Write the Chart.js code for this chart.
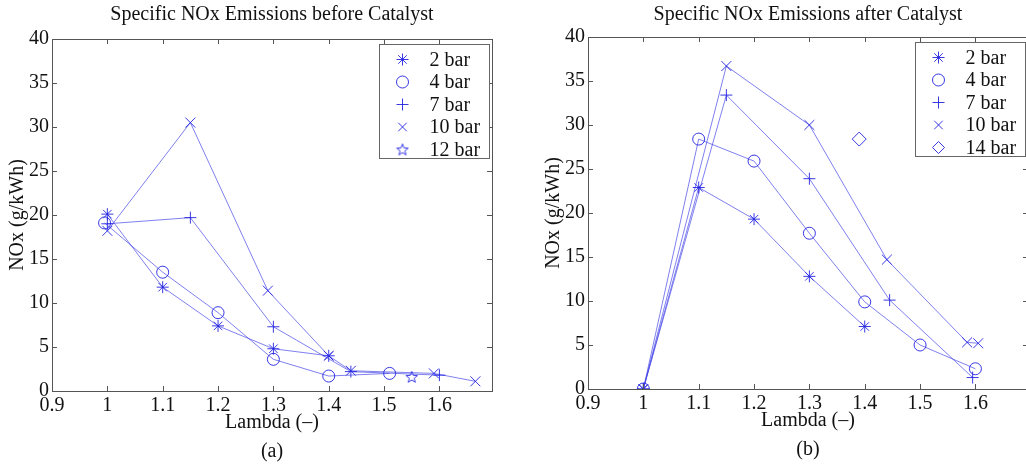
<!DOCTYPE html>
<html>
<head>
<meta charset="utf-8">
<script src="https://cdn.jsdelivr.net/npm/chart.js@4"></script>
<style>
  html, body { margin: 0; padding: 0; background: #fff; overflow: hidden; }
  body { width: 1026px; height: 467px; position: relative; }
  canvas { position: absolute; top: 0; }
  #cBefore { left: 0; }
  #cAfter { left: 536px; }
</style>
</head>
<body>
<canvas id="cBefore" width="500" height="467"></canvas>
<canvas id="cAfter" width="500" height="467"></canvas>
<script>
// before catalyst (a)
const beforeLabels = ['2 bar', '4 bar', '7 bar', '10 bar', '12 bar'];
const before2x = [1.0, 1.1, 1.2, 1.3, 1.4];
const before2y = [20.1, 11.8, 7.4, 4.8, 4.0];
const before4x = [0.995, 1.1, 1.2, 1.3, 1.4, 1.51];
const before4y = [19.1, 13.5, 8.9, 3.6, 1.7, 2.0];
const before7x = [1.0, 1.15, 1.3, 1.44, 1.6];
const before7y = [19.0, 19.7, 7.3, 2.2, 1.8];
const before10x = [1.0, 1.15, 1.29, 1.4, 1.44, 1.59, 1.665];
const before10y = [18.2, 30.5, 11.4, 4.0, 2.3, 2.0, 1.1];
const before12x = [1.55];
const before12y = [1.6];

// after catalyst (b)
const afterLabels = ['2 bar', '4 bar', '7 bar', '10 bar', '14 bar'];
const after2x = [1.0, 1.1, 1.2, 1.3, 1.4];
const after2y = [0, 22.9, 19.3, 12.8, 7.1];
const after4x = [1.0, 1.1, 1.2, 1.3, 1.4, 1.5, 1.6];
const after4y = [0, 28.4, 25.9, 17.7, 9.9, 5.0, 2.3];
const after7x = [1.0, 1.15, 1.3, 1.445, 1.595];
const after7y = [0, 33.4, 23.9, 10.1, 1.3];
const after10x = [1.0, 1.15, 1.3, 1.44, 1.585, 1.605];
const after10y = [0, 36.7, 30.0, 14.7, 5.3, 5.2];
const after14x = [1.39];
const after14y = [28.4];

const xTicks = [0.9, 1.0, 1.1, 1.2, 1.3, 1.4, 1.5, 1.6];
const yTicks = [0, 5, 10, 15, 20, 25, 30, 35, 40];

const SERIF = '"Liberation Serif", "DejaVu Serif", serif';
const LINE = 'rgba(60,60,230,0.65)';
const MARK = 'rgba(35,35,225,0.9)';

// pentagram marker (no built-in style for it)
function makeStar() {
  const c = document.createElement('canvas');
  c.width = 14; c.height = 14;
  const g = c.getContext('2d');
  g.strokeStyle = MARK;
  g.lineWidth = 1;
  g.beginPath();
  for (let i = 0; i < 10; i++) {
    const r = i % 2 === 0 ? 6 : 2.6;
    const a = -Math.PI / 2 + i * Math.PI / 5;
    const px = 7 + r * Math.cos(a), py = 7.5 + r * Math.sin(a);
    if (i === 0) g.moveTo(px, py); else g.lineTo(px, py);
  }
  g.closePath();
  g.stroke();
  return c;
}
const starImg = makeStar();

function pts(xs, ys) {
  return xs.map((x, i) => ({ x: x, y: ys[i] }));
}

function serie(label, xs, ys, style, radius) {
  return {
    label: label,
    data: pts(xs, ys),
    showLine: true,
    borderColor: LINE,
    borderWidth: 1,
    pointStyle: style,
    pointRadius: radius,
    pointBorderColor: MARK,
    pointBackgroundColor: 'rgba(0,0,0,0)',
    pointBorderWidth: 1
  };
}

// box, inward ticks on all four sides
const framePlugin = {
  id: 'frame',
  afterDatasetsDraw(chart) {
    const ctx = chart.ctx, a = chart.chartArea;
    const xs = chart.scales.x, ys = chart.scales.y;
    ctx.save();
    ctx.strokeStyle = '#555';
    ctx.lineWidth = 1;
    ctx.beginPath();
    xs.ticks.forEach(t => {
      const p = Math.round(xs.getPixelForValue(t.value)) + 0.5;
      ctx.moveTo(p, a.bottom); ctx.lineTo(p, a.bottom - 5);
      ctx.moveTo(p, a.top); ctx.lineTo(p, a.top + 5);
    });
    ys.ticks.forEach(t => {
      const p = Math.round(ys.getPixelForValue(t.value)) + 0.5;
      ctx.moveTo(a.left, p); ctx.lineTo(a.left + 5, p);
      ctx.moveTo(a.right, p); ctx.lineTo(a.right - 5, p);
    });
    ctx.stroke();
    ctx.strokeRect(Math.round(a.left) + 0.5, Math.round(a.top) + 0.5,
      Math.round(a.right - a.left), Math.round(a.bottom - a.top));
    ctx.restore();
  }
};

// matlab-like legend box in the top right corner
const boxLegend = {
  id: 'boxLegend',
  afterDraw(chart) {
    const ctx = chart.ctx, a = chart.chartArea;
    const w = 110, h = 114;
    const left = Math.round(a.right - 3 - w) + 0.5, top = Math.round(a.top + 5) + 0.5;
    ctx.save();
    ctx.fillStyle = '#fff';
    ctx.fillRect(left, top, w, h);
    ctx.strokeStyle = '#666';
    ctx.lineWidth = 1;
    ctx.strokeRect(left, top, w, h);
    ctx.font = '20px ' + SERIF;
    ctx.textBaseline = 'middle';
    chart.data.datasets.forEach((ds, i) => {
      const cy = top + 15 + i * 22.5;
      ctx.strokeStyle = MARK;
      ctx.fillStyle = 'rgba(0,0,0,0)';
      ctx.lineWidth = 1;
      Chart.helpers.drawPoint(ctx, {
        pointStyle: ds.pointStyle,
        radius: Math.min(ds.pointRadius, 6),
        rotation: 0,
        borderWidth: 1
      }, left + 23, cy);
      ctx.fillStyle = '#111';
      ctx.fillText(ds.label, left + 50, cy + 1);
    });
    ctx.restore();
  }
};

function makeChart(id, datasets, title, tag, opts) {
  return new Chart(document.getElementById(id), {
    type: 'scatter',
    data: { datasets: datasets },
    plugins: [framePlugin, boxLegend],
    options: {
      responsive: false,
      animation: false,
      devicePixelRatio: 1,
      layout: { padding: { left: 0, right: opts.padRight, top: 0, bottom: 0 } },
      plugins: {
        legend: { display: false },
        tooltip: { enabled: false },
        title: {
          display: true,
          text: title,
          fullSize: false,
          color: '#111',
          font: { family: SERIF, size: 20, weight: 'normal', lineHeight: 1.2 },
          padding: { top: 3, bottom: opts.titleGap }
        }
      },
      scales: {
        x: {
          type: 'linear',
          min: 0.9,
          max: 1.695,
          afterBuildTicks: s => { s.ticks = xTicks.map(v => ({ value: v })); },
          afterFit: s => { s.height = opts.xHeight; },
          grid: { display: false, drawTicks: false },
          border: { display: false },
          ticks: {
            color: '#111',
            padding: 3,
            maxRotation: 0,
            autoSkip: false,
            font: { family: SERIF, size: 20 },
            callback: v => String(+Number(v).toFixed(1))
          },
          title: {
            display: true,
            text: ['Lambda (–)', tag],
            color: '#111',
            font: { family: SERIF, size: 20, lineHeight: 1.45 },
            padding: { top: 0, bottom: opts.tagPad }
          }
        },
        y: {
          min: 0,
          max: 40,
          afterBuildTicks: s => { s.ticks = yTicks.map(v => ({ value: v })); },
          afterFit: s => { s.width = 52; },
          grid: { display: false, drawTicks: false },
          border: { display: false },
          ticks: {
            color: '#111',
            padding: 3,
            font: { family: SERIF, size: 20 }
          },
          title: {
            display: true,
            text: 'NOx (g/kWh)',
            color: '#111',
            font: { family: SERIF, size: 20, lineHeight: 1.2 },
            padding: { top: 6, bottom: 0 }
          }
        }
      }
    }
  });
}

makeChart('cBefore', [
  serie(beforeLabels[0], before2x, before2y, 'star', 6),
  serie(beforeLabels[1], before4x, before4y, 'circle', 6),
  serie(beforeLabels[2], before7x, before7y, 'cross', 6),
  serie(beforeLabels[3], before10x, before10y, 'crossRot', 7),
  serie(beforeLabels[4], before12x, before12y, starImg, 7)
], 'Specific NOx Emissions before Catalyst', '(a)',
  { padRight: 3, titleGap: 12, xHeight: 76, tagPad: 0.5 });

makeChart('cAfter', [
  serie(afterLabels[0], after2x, after2y, 'star', 6),
  serie(afterLabels[1], after4x, after4y, 'circle', 6),
  serie(afterLabels[2], after7x, after7y, 'cross', 6),
  serie(afterLabels[3], after10x, after10y, 'crossRot', 7),
  serie(afterLabels[4], after14x, after14y, 'rectRot', 7)
], 'Specific NOx Emissions after Catalyst', '(b)',
  { padRight: 5, titleGap: 10, xHeight: 78, tagPad: 2.5 });
</script>
</body>
</html>
